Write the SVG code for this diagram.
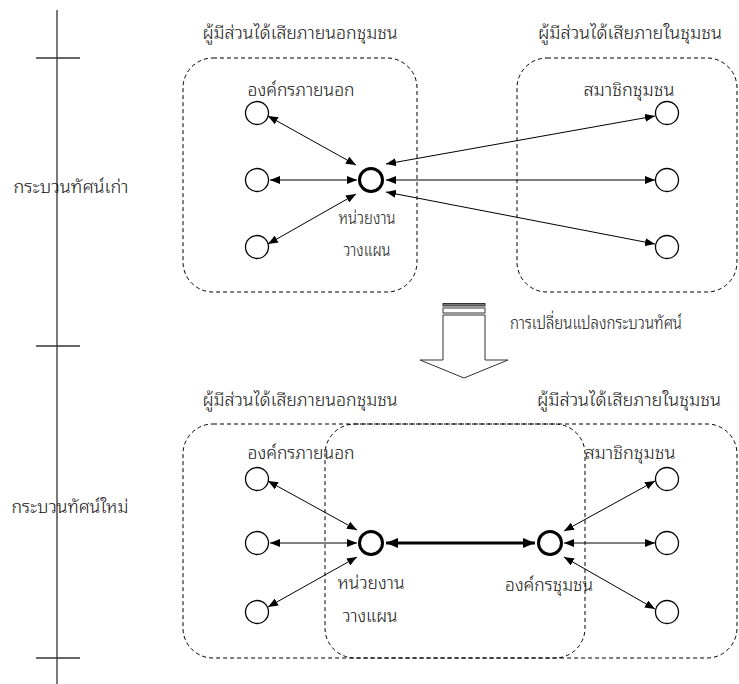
<svg xmlns="http://www.w3.org/2000/svg" width="739" height="684" viewBox="0 0 739 684">
<style>
text{font-family:"Noto Sans Thai Looped","Noto Sans Thai","Noto Sans","DejaVu Sans",sans-serif;font-size:18px;font-weight:300;fill:#111;text-anchor:middle}
.box{fill:none;stroke:#000;stroke-width:1;stroke-dasharray:4 3}
.axis{stroke:#333;stroke-width:1.3;fill:none}
.sm{fill:#fff;stroke:#000;stroke-width:1.3}
.big{fill:#fff;stroke:#000;stroke-width:3}
.ln{stroke:#000;stroke-width:1;fill:none;marker-start:url(#ah);marker-end:url(#ah)}
.thick{stroke:#000;stroke-width:3;fill:none;marker-start:url(#ahb);marker-end:url(#ahb)}
</style>
<defs>
<marker id="ah" viewBox="0 0 10 8" refX="10" refY="4" markerWidth="10" markerHeight="8" markerUnits="userSpaceOnUse" orient="auto-start-reverse"><path d="M0,0 L10,4 L0,8 z" fill="#000"/></marker>
<marker id="ahb" viewBox="0 0 12 10" refX="12" refY="5" markerWidth="12" markerHeight="10" markerUnits="userSpaceOnUse" orient="auto-start-reverse"><path d="M0,0 L12,5 L0,10 z" fill="#000"/></marker>
</defs>

<g id="axis">
<line class="axis" x1="57" y1="10" x2="57" y2="684"/>
<line class="axis" x1="36" y1="58" x2="80" y2="58"/>
<line class="axis" x1="36" y1="346" x2="80" y2="346"/>
<line class="axis" x1="36" y1="658" x2="80" y2="658"/>
<text x="71" y="193" textLength="115" lengthAdjust="spacingAndGlyphs">กระบวนทัศน์เก่า</text>
<text x="70" y="513" textLength="117" lengthAdjust="spacingAndGlyphs">กระบวนทัศน์ใหม่</text>
</g>

<g id="old-outside">
<rect class="box" x="183" y="58" width="234" height="234" rx="30" ry="30"/>
<text x="300" y="39" textLength="195" lengthAdjust="spacingAndGlyphs">ผู้มีส่วนได้เสียภายนอกชุมชน</text>
<text x="301" y="96" textLength="107" lengthAdjust="spacingAndGlyphs">องค์กรภายนอก</text>
</g>
<g id="old-inside">
<rect class="box" x="517" y="58" width="220" height="234" rx="30" ry="30"/>
<text x="630" y="39" textLength="184" lengthAdjust="spacingAndGlyphs">ผู้มีส่วนได้เสียภายในชุมชน</text>
<text x="629" y="96" textLength="91" lengthAdjust="spacingAndGlyphs">สมาชิกชุมชน</text>
</g>

<g id="connectors">
<line class="ln" x1="268" y1="116" x2="356" y2="165"/>
<line class="ln" x1="270" y1="180" x2="357" y2="180"/>
<line class="ln" x1="268" y1="244" x2="356" y2="194"/>
<line class="ln" x1="386" y1="164" x2="655" y2="116"/>
<line class="ln" x1="386" y1="180" x2="655" y2="180"/>
<line class="ln" x1="386" y1="192" x2="655" y2="244"/>
<line class="ln" x1="268" y1="481" x2="357" y2="530"/>
<line class="ln" x1="270" y1="543" x2="357" y2="543"/>
<line class="ln" x1="268" y1="607" x2="357" y2="557"/>
<line class="thick" x1="386" y1="543" x2="535" y2="543"/>
<line class="ln" x1="564" y1="531" x2="655" y2="481"/>
<line class="ln" x1="564" y1="543" x2="655" y2="543"/>
<line class="ln" x1="564" y1="557" x2="655" y2="609"/>
</g>

<g id="old-nodes">
<circle class="sm" cx="257" cy="113" r="11.5"/>
<circle class="sm" cx="257" cy="180" r="11.5"/>
<circle class="sm" cx="257" cy="247" r="11.5"/>
<circle class="sm" cx="667" cy="113" r="11.5"/>
<circle class="sm" cx="667" cy="180" r="11.5"/>
<circle class="sm" cx="667" cy="247" r="11.5"/>
</g>
<g id="old-planning">
<circle class="big" cx="371" cy="180" r="11.5"/>
<text x="367" y="224" textLength="57" lengthAdjust="spacingAndGlyphs">หน่วยงาน</text>
<text x="367" y="256" textLength="47" lengthAdjust="spacingAndGlyphs">วางแผน</text>
</g>

<g id="shift-arrow">
<rect x="443" y="303.5" width="42" height="2.5" fill="#777" stroke="#333" stroke-width="1"/>
<rect x="443" y="308" width="42" height="5" fill="#fff" stroke="#333" stroke-width="1"/>
<polygon points="443,315 485,315 485,360 508,360 464,378 420,360 443,360" fill="#fff" stroke="#333" stroke-width="1"/>
<text x="596" y="329" textLength="172" lengthAdjust="spacingAndGlyphs">การเปลี่ยนแปลงกระบวนทัศน์</text>
</g>

<g id="new-outside">
<rect class="box" x="183" y="424" width="402" height="234" rx="30" ry="30"/>
<text x="300" y="406" textLength="195" lengthAdjust="spacingAndGlyphs">ผู้มีส่วนได้เสียภายนอกชุมชน</text>
<text x="301" y="459" textLength="107" lengthAdjust="spacingAndGlyphs">องค์กรภายนอก</text>
</g>
<g id="new-inside">
<rect class="box" x="325" y="424" width="412" height="234" rx="30" ry="30"/>
<text x="629" y="406" textLength="184" lengthAdjust="spacingAndGlyphs">ผู้มีส่วนได้เสียภายในชุมชน</text>
<text x="630" y="459" textLength="91" lengthAdjust="spacingAndGlyphs">สมาชิกชุมชน</text>
</g>

<g id="new-nodes">
<circle class="sm" cx="257" cy="479" r="11.5"/>
<circle class="sm" cx="257" cy="543" r="11.5"/>
<circle class="sm" cx="257" cy="612" r="11.5"/>
<circle class="sm" cx="667" cy="479" r="11.5"/>
<circle class="sm" cx="667" cy="543" r="11.5"/>
<circle class="sm" cx="667" cy="612" r="11.5"/>
</g>
<g id="new-planning">
<circle class="big" cx="371" cy="543" r="11.5"/>
<text x="371" y="589" textLength="67" lengthAdjust="spacingAndGlyphs">หน่วยงาน</text>
<text x="370" y="622" textLength="55" lengthAdjust="spacingAndGlyphs">วางแผน</text>
</g>
<g id="community-org">
<circle class="big" cx="550" cy="543" r="11.5"/>
<text x="549" y="591" textLength="88" lengthAdjust="spacingAndGlyphs">องค์กรชุมชน</text>
</g>
</svg>
